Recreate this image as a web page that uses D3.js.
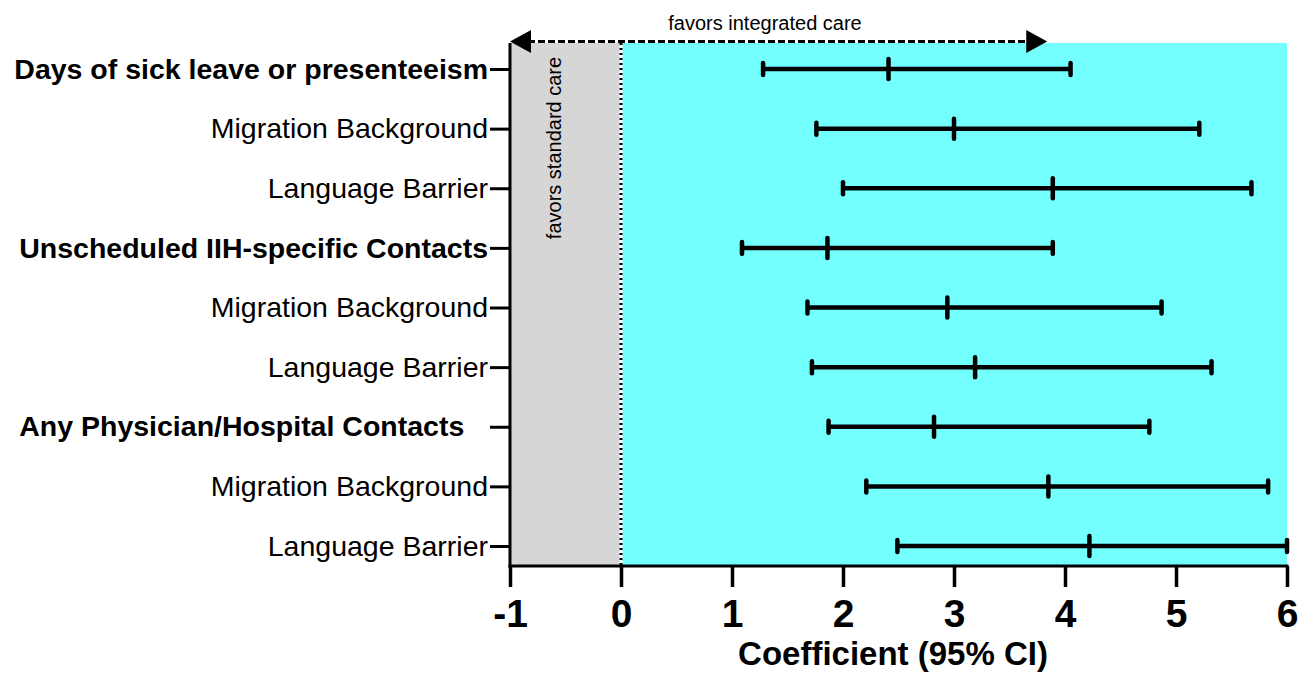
<!DOCTYPE html>
<html>
<head>
<meta charset="utf-8">
<script src="https://cdn.jsdelivr.net/npm/d3@7"></script>
<style>
  html, body { margin: 0; padding: 0; background: #fff; }
  svg { display: block; }
</style>
</head>
<body>
<svg id="chart"></svg>
<script>
// row labels, top to bottom
const labels = [
    "Days of sick leave or presenteeism",
    "Migration Background",
    "Language Barrier",
    "Unscheduled IIH-specific Contacts",
    "Migration Background",
    "Language Barrier",
    "Any Physician/Hospital Contacts\u00a0\u00a0\u00a0",
    "Migration Background",
    "Language Barrier"
];
const isHeader = [true, false, false, true, false, false, true, false, false];

// coefficient and 95% CI
const estimate = [2.41, 3.00, 3.89, 1.86, 2.94, 3.19, 2.82, 3.85, 4.22];
const lower    = [1.28, 1.76, 2.00, 1.09, 1.68, 1.72, 1.87, 2.21, 2.49];
const upper    = [4.05, 5.21, 5.68, 3.89, 4.87, 5.32, 4.76, 5.83, 6.00];

const xTicks = [-1, 0, 1, 2, 3, 4, 5, 6];

const width = 1301, height = 675;
const svg = d3.select("#chart").attr("width", width).attr("height", height);

const plotLeft = 510, plotRight = 1287, plotTop = 43, plotBottom = 566;
const font = "Liberation Sans, Arial, Helvetica, sans-serif";

const x = d3.scaleLinear().domain([-1, 6]).range([plotLeft, plotRight]);
const y = d3.scalePoint().domain(d3.range(labels.length)).range([69, 546]);

// background shading
svg.append("rect")
    .attr("x", x(-1)).attr("y", plotTop)
    .attr("width", x(0) - x(-1)).attr("height", plotBottom - plotTop)
    .attr("fill", "#d6d6d6");
svg.append("rect")
    .attr("x", x(0)).attr("y", plotTop)
    .attr("width", x(6) - x(0)).attr("height", plotBottom - plotTop)
    .attr("fill", "#74ffff");

// dotted zero line
svg.append("line")
    .attr("x1", x(0)).attr("x2", x(0))
    .attr("y1", plotTop).attr("y2", plotBottom)
    .attr("stroke", "#fff").attr("stroke-width", 3);
svg.append("line")
    .attr("x1", x(0)).attr("x2", x(0))
    .attr("y1", plotTop).attr("y2", plotBottom)
    .attr("stroke", "#000").attr("stroke-width", 3)
    .attr("stroke-dasharray", "2,3");

// "favors standard care"
svg.append("text")
    .attr("transform", "translate(554,148) rotate(-90)")
    .attr("text-anchor", "middle")
    .attr("dominant-baseline", "central")
    .style("font-family", font)
    .style("font-size", "20px")
    .text("favors standard care");

// double arrow on top
const arrowY = 41.5;
const ax0 = x(-1), ax1 = x(3.84);
svg.append("line")
    .attr("x1", ax0 + 18).attr("x2", ax1 - 18)
    .attr("y1", arrowY).attr("y2", arrowY)
    .attr("stroke", "#000").attr("stroke-width", 3)
    .attr("stroke-dasharray", "7,3");
svg.append("path")
    .attr("d", `M${ax0},${arrowY} L${ax0 + 21},${arrowY - 11.5} L${ax0 + 21},${arrowY + 11.5} Z`)
    .attr("fill", "#000");
svg.append("path")
    .attr("d", `M${ax1},${arrowY} L${ax1 - 21},${arrowY - 11.5} L${ax1 - 21},${arrowY + 11.5} Z`)
    .attr("fill", "#000");
svg.append("text")
    .attr("x", 765).attr("y", 30)
    .attr("text-anchor", "middle")
    .style("font-family", font)
    .style("font-size", "20px")
    .text("favors integrated care");

// error bars
const rows = svg.append("g").selectAll("g")
    .data(d3.range(labels.length))
    .enter().append("g")
    .attr("transform", i => `translate(0,${y(i)})`);

rows.append("line")
    .attr("x1", i => x(lower[i])).attr("x2", i => x(upper[i]))
    .attr("stroke", "#000").attr("stroke-width", 4.5);
rows.append("line")
    .attr("x1", i => x(lower[i])).attr("x2", i => x(lower[i]))
    .attr("y1", -6).attr("y2", 6)
    .attr("stroke", "#000").attr("stroke-width", 4.5).attr("stroke-linecap", "round");
rows.append("line")
    .attr("x1", i => x(upper[i])).attr("x2", i => x(upper[i]))
    .attr("y1", -6).attr("y2", 6)
    .attr("stroke", "#000").attr("stroke-width", 4.5).attr("stroke-linecap", "round");
rows.append("line")
    .attr("x1", i => x(estimate[i])).attr("x2", i => x(estimate[i]))
    .attr("y1", -10).attr("y2", 10)
    .attr("stroke", "#000").attr("stroke-width", 4.5).attr("stroke-linecap", "round");

// y axis
const yAxis = svg.append("g")
    .attr("transform", `translate(${plotLeft},0)`)
    .call(d3.axisLeft(y).tickSize(20).tickPadding(2).tickFormat(i => labels[i]));
yAxis.select(".domain").remove();
yAxis.append("line")
    .attr("x1", 0).attr("x2", 0).attr("y1", plotTop).attr("y2", plotBottom + 1.5)
    .attr("stroke", "#000").attr("stroke-width", 3);
yAxis.selectAll(".tick line").attr("stroke-width", 3);
yAxis.selectAll(".tick text")
    .attr("fill", "#000")
    .style("font-family", font)
    .style("font-size", "28.5px")
    .style("font-weight", i => isHeader[i] ? "bold" : "normal")
    .style("white-space", "pre");

// x axis
const xAxis = svg.append("g")
    .attr("transform", `translate(0,${plotBottom})`)
    .call(d3.axisBottom(x).tickValues(xTicks).tickSize(21).tickPadding(12).tickFormat(d3.format("d")));
xAxis.select(".domain").remove();
xAxis.append("line")
    .attr("x1", plotLeft - 1.5).attr("x2", plotRight + 1.5)
    .attr("stroke", "#000").attr("stroke-width", 3);
xAxis.selectAll(".tick line").attr("stroke-width", 3.5);
xAxis.selectAll(".tick text")
    .attr("fill", "#000")
    .style("font-family", font)
    .style("font-size", "39px")
    .style("font-weight", "bold")
    .text(d => d < 0 ? "-" + Math.abs(d) : d);

svg.append("text")
    .attr("x", 893).attr("y", 665)
    .attr("text-anchor", "middle")
    .style("font-family", font)
    .style("font-size", "33px")
    .style("font-weight", "bold")
    .text("Coefficient (95% CI)");
</script>
</body>
</html>
